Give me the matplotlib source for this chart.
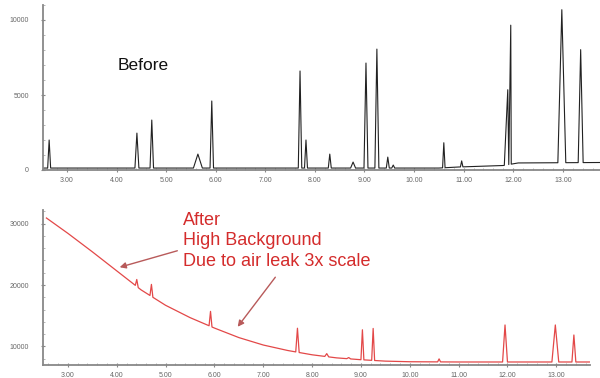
import numpy as np
import matplotlib
matplotlib.use("Agg")
import matplotlib.pyplot as plt
from matplotlib.patches import FancyArrowPatch
from matplotlib.ticker import MultipleLocator

plt.rcParams['font.family'] = ['Liberation Sans', 'DejaVu Sans']

# ---------------- data ----------------
tick_times = [3, 4, 5, 6, 7, 8, 9, 10, 11, 12, 13]
tick_labels = ["3.00", "4.00", "5.00", "6.00", "7.00", "8.00", "9.00",
               "10.00", "11.00", "12.00", "13.00"]

# Before: baseline knots and peaks (time, height, half width)
before_bg_t = [2.52, 10.5, 10.9, 11.8, 12.1, 13.75]
before_bg_v = [130, 130, 200, 300, 470, 500]
before_t = [2.64, 4.41, 4.71, 5.64, 5.92, 7.70, 7.82, 8.30, 8.77, 9.03, 9.25,
            9.47, 9.58, 10.60, 10.96, 11.89, 11.95, 12.98, 13.36]
before_h = [1870, 2330, 3200, 930, 4470, 6470, 1870, 930, 400, 7000, 7930,
            730, 200, 1670, 400, 5000, 9270, 10200, 7530]
before_w = [0.03, 0.04, 0.035, 0.09, 0.035, 0.035, 0.03, 0.03, 0.05, 0.04, 0.04,
            0.03, 0.03, 0.025, 0.025, 0.07, 0.04, 0.08, 0.05]

# After: decaying background knots and peaks
after_bg_t = [2.56, 3.0, 3.5, 4.0, 4.5, 5.0, 5.5, 6.0, 6.5, 7.0, 7.5, 8.0,
              8.5, 9.0, 9.5, 10.0, 11.0, 13.69]
after_bg_v = [30900, 28400, 25400, 22300, 19200, 16700, 14700, 13000, 11450,
              10240, 9350, 8650, 8150, 7850, 7620, 7520, 7480, 7480]
after_t = [4.41, 4.71, 5.92, 7.70, 8.30, 8.75, 9.03, 9.25, 10.60, 11.95, 12.98, 13.36]
after_h = [1140, 1950, 2440, 3900, 490, 200, 4880, 5200, 490, 6020, 6020, 4390]
after_w = [0.03, 0.03, 0.03, 0.035, 0.04, 0.04, 0.03, 0.03, 0.03, 0.05, 0.07, 0.04]


def build_trace(bg_t, bg_v, pt, ph, pw):
    pts = list(zip(bg_t, bg_v))
    for t, h, w in zip(pt, ph, pw):
        bl = np.interp(t - w, bg_t, bg_v)
        br = np.interp(t + w, bg_t, bg_v)
        bc = np.interp(t, bg_t, bg_v)
        pts += [(t - w, bl), (t, bc + h), (t + w, br)]
    pts.sort(key=lambda p: p[0])
    return np.array([p[0] for p in pts]), np.array([p[1] for p in pts])


W, H = 600, 378
fig = plt.figure(figsize=(6, 3.78), dpi=100)


def ax_rect(x0, y0, x1, y1):
    return [x0 / W, 1 - y1 / H, (x1 - x0) / W, (y1 - y0) / H]


def style(ax, color_sp):
    for s in ['top', 'right']:
        ax.spines[s].set_visible(False)
    for s in ['left', 'bottom']:
        ax.spines[s].set_color(color_sp)
        ax.spines[s].set_linewidth(1.3)
    ax.tick_params(axis='both', which='major', labelsize=5, labelcolor='#666666',
                   color='#888888', length=2.5, width=0.8, direction='inout')
    ax.tick_params(axis='both', which='minor', color='#aaaaaa', length=1.5,
                   width=0.6, direction='in')
    ax.set_xticks(tick_times)
    ax.set_xticklabels(tick_labels)
    ax.xaxis.set_minor_locator(MultipleLocator(0.2))
    ax.tick_params(axis='x', pad=4)
    ax.tick_params(axis='y', pad=9)


# ---------------- Before ----------------
ax1 = fig.add_axes(ax_rect(43, 5, 600, 170))
xb, yb = build_trace(before_bg_t, before_bg_v, before_t, before_h, before_w)
ax1.plot(xb, yb, color='#222222', lw=0.8)
ax1.set_xlim(2.516, 13.75)
ax1.set_ylim(0, 11000)
style(ax1, '#888888')
ax1.set_yticks([0, 5000, 10000])
ax1.set_yticklabels(["0", "5000", "10000"])
ax1.yaxis.set_minor_locator(MultipleLocator(1000))

# ---------------- After ----------------
ax2 = fig.add_axes(ax_rect(43, 210, 590, 365))
xa, ya = build_trace(after_bg_t, after_bg_v, after_t, after_h, after_w)
ax2.plot(xa, ya, color='#e34848', lw=0.9)
ax2.set_xlim(2.49, 13.69)
ax2.set_ylim(6990, 32200)
style(ax2, '#888888')
ax2.set_yticks([10000, 20000, 30000])
ax2.set_yticklabels(["10000", "20000", "30000"])
ax2.yaxis.set_minor_locator(MultipleLocator(2000))


def fx(px):
    return px / W


def fy(py):
    return 1 - py / H


fig.text(fx(118), fy(70), "Before", fontsize=12.5, color='#111111', va='baseline')
red = '#d42c2c'
fig.text(fx(183), fy(225), "After", fontsize=13, color=red, va='baseline')
fig.text(fx(183), fy(245.5), "High Background", fontsize=13, color=red, va='baseline')
fig.text(fx(183), fy(266), "Due to air leak 3x scale", fontsize=13, color=red, va='baseline')

arrow_kw = dict(arrowstyle='-|>', color='#b85a5a', lw=1.0, mutation_scale=9)
fig.add_artist(FancyArrowPatch(
    (fx(180), fy(250)), (fx(117), fy(268)), transform=fig.transFigure, **arrow_kw))
fig.add_artist(FancyArrowPatch(
    (fx(277), fy(275)), (fx(236), fy(329)), transform=fig.transFigure, **arrow_kw))

fig.savefig("out.png", dpi=100)
